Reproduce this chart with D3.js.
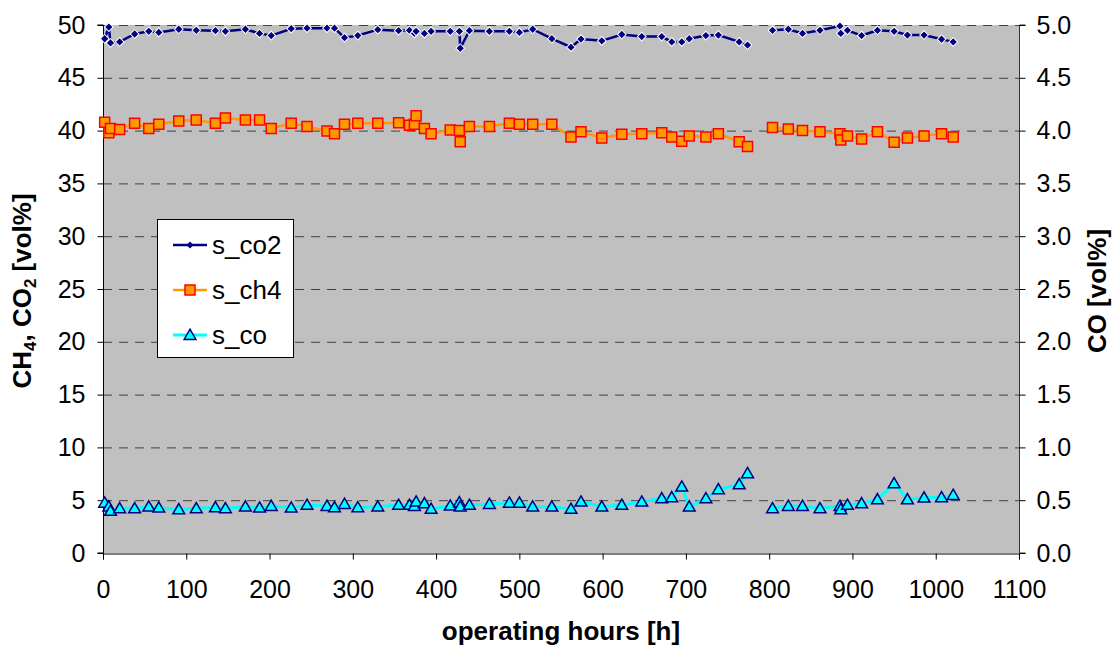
<!DOCTYPE html>
<html><head><meta charset="utf-8">
<script src="https://cdn.jsdelivr.net/npm/d3@7"></script>
<style>
body{margin:0;background:#fff;}
text{font-family:"Liberation Sans",Arial,sans-serif;}
</style></head>
<body><svg id="c" width="1114" height="646"></svg>
<script>
// operating hours (shared x values); null marks the gap in the record
const hours = [2,7,9,20,38,55,67,91,112,135,147,171,188,202,226,245,269,278,290,306,330,355,368,374,376,386,394,417,428,429,440,464,488,500,516,539,562,574,599,623,647,671,683,695,704,724,739,764,774,790,804,823,840,861,885,886,894,911,930,950,966,986,1007,1021];
const co2 = [48.7,49.8,48.3,48.4,49.15,49.4,49.3,49.6,49.5,49.46,49.4,49.6,49.2,49.0,49.65,49.7,49.7,49.7,48.8,49.0,49.56,49.46,49.5,49.2,49.4,49.2,49.4,49.4,49.4,47.8,49.46,49.4,49.4,49.3,49.6,48.7,47.9,48.67,48.5,49.1,48.9,48.9,48.4,48.4,48.7,49.0,49.05,48.4,48.1,null,49.5,49.6,49.2,49.5,49.9,49.2,49.5,49.0,49.5,49.4,49.05,49.05,48.65,48.4];
const ch4 = [40.8,39.8,40.2,40.1,40.7,40.2,40.6,40.9,41.0,40.7,41.2,41.0,41.0,40.2,40.7,40.4,39.96,39.7,40.6,40.7,40.7,40.75,40.5,40.6,41.4,40.2,39.7,40.06,40.0,38.95,40.4,40.4,40.7,40.6,40.6,40.6,39.4,39.9,39.3,39.65,39.7,39.8,39.4,39.0,39.5,39.4,39.7,38.95,38.5,null,40.3,40.15,40.0,39.9,39.7,39.1,39.5,39.2,39.9,38.9,39.3,39.5,39.7,39.4];
const co = [0.476,0.439,0.398,0.423,0.423,0.439,0.429,0.413,0.423,0.432,0.423,0.439,0.429,0.445,0.429,0.455,0.445,0.432,0.464,0.432,0.439,0.455,0.455,0.445,0.486,0.47,0.417,0.448,0.48,0.439,0.455,0.464,0.476,0.476,0.439,0.439,0.417,0.486,0.439,0.455,0.486,0.518,0.527,0.628,0.439,0.518,0.603,0.65,0.755,null,0.423,0.445,0.445,0.423,0.445,0.414,0.455,0.47,0.508,0.66,0.508,0.524,0.527,0.549];
const xTicks = [0,100,200,300,400,500,600,700,800,900,1000,1100];
const yLeftTicks = [0,5,10,15,20,25,30,35,40,45,50];
const yRightTicks = [0,0.5,1,1.5,2,2.5,3,3.5,4,4.5,5];
const seriesNames = ["s_co2","s_ch4","s_co"];

const svg = d3.select("#c");
const L=103, R=1019, T=25, B=553;
const x = d3.scaleLinear().domain([0,1100]).range([L,R]);
const yL = d3.scaleLinear().domain([0,50]).range([B,T]);
const yR = d3.scaleLinear().domain([0,5]).range([B,T]);

svg.append("rect").attr("x",L).attr("y",T).attr("width",R-L).attr("height",B-T).attr("fill","#C0C0C0");

// gridlines
svg.append("g").selectAll("line").data(yLeftTicks.filter(d=>d>0)).join("line")
  .attr("x1",L).attr("x2",R).attr("y1",d=>yL(d)+0.5).attr("y2",d=>yL(d)+0.5)
  .attr("stroke","#404040").attr("stroke-width",1).attr("stroke-dasharray","9,7");

// axes
const fs = "25px";
const gx = svg.append("g").attr("transform",`translate(0,${B+0.5})`)
  .call(d3.axisBottom(x).tickValues(xTicks).tickSize(6).tickPadding(21).tickFormat(d3.format("d")));
const gl = svg.append("g").attr("transform",`translate(${L+0.5},0)`)
  .call(d3.axisLeft(yL).tickValues(yLeftTicks).tickSize(6).tickPadding(12));
const gr = svg.append("g").attr("transform",`translate(${R+0.5},0)`)
  .call(d3.axisRight(yR).tickValues(yRightTicks).tickSize(6).tickPadding(11).tickFormat(d3.format(".1f")));
[gx,gl,gr].forEach(g=>{
  g.selectAll("text").attr("font-size",fs).attr("fill","#000").attr("font-family","Liberation Sans, Arial, sans-serif");
  g.selectAll("line").attr("stroke","#000");
  g.select(".domain").attr("stroke","#000").attr("stroke-width",1);
});
gl.select(".domain").attr("d",`M-6,${B}H0V${T}H-6`);
gr.select(".domain").attr("stroke","#333").attr("d",`M6,${B}H0V${T}H6`);

// lines
const mk = (vals, ys) => d3.line().defined((d,i)=>vals[i]!==null).x((d,i)=>x(hours[i])).y((d,i)=>ys(vals[i]));
svg.append("path").datum(hours).attr("d",mk(ch4,yL)).attr("fill","none").attr("stroke","#FF9900").attr("stroke-width",2.5);
svg.append("path").datum(hours).attr("d",mk(co2,yL)).attr("fill","none").attr("stroke","#000080").attr("stroke-width",2.5);
svg.append("path").datum(hours).attr("d",mk(co,yR)).attr("fill","none").attr("stroke","#00FFFF").attr("stroke-width",3);

const idx = d3.range(hours.length);
const diamond = d3.symbol().type(d3.symbolSquare).size(38)();
const square = d3.symbol().type(d3.symbolSquare).size(100)();
const tri = d3.symbol().type(d3.symbolTriangle).size(60)();

svg.append("g").selectAll("path").data(idx.filter(i=>ch4[i]!==null)).join("path")
  .attr("d",square).attr("transform",i=>`translate(${x(hours[i])},${yL(ch4[i])})`)
  .attr("fill","#FF9900").attr("stroke","#FF0000").attr("stroke-width",1.5);
svg.append("g").selectAll("path").data(idx.filter(i=>co2[i]!==null)).join("path")
  .attr("d",diamond).attr("transform",i=>`translate(${x(hours[i])},${yL(co2[i])}) rotate(45)`)
  .attr("fill","#000080").attr("stroke","#fff").attr("stroke-width",1);
svg.append("g").selectAll("path").data(idx.filter(i=>co[i]!==null)).join("path")
  .attr("d",tri).attr("transform",i=>`translate(${x(hours[i])},${yR(co[i])+1})`)
  .attr("fill","#00FFFF").attr("stroke","#000080").attr("stroke-width",1.5);

// axis titles
const tfs = "26px";
svg.append("text").attr("x",(L+R)/2).attr("y",640).attr("text-anchor","middle")
  .attr("font-size",tfs).attr("font-weight","bold").text("operating hours [h]");
const lt = svg.append("text").attr("transform",`translate(31,${(T+B)/2+2}) rotate(-90)`).attr("text-anchor","middle")
  .attr("font-size",tfs).attr("font-weight","bold");
lt.append("tspan").text("CH");
lt.append("tspan").attr("font-size","17px").attr("dy",5).text("4");
lt.append("tspan").attr("dy",-5).text(", CO");
lt.append("tspan").attr("font-size","17px").attr("dy",5).text("2");
lt.append("tspan").attr("dy",-5).text(" [vol%]");
svg.append("text").attr("transform",`translate(1106,${(T+B)/2+2}) rotate(-90)`).attr("text-anchor","middle")
  .attr("font-size",tfs).attr("font-weight","bold").text("CO [vol%]");

// legend
const lg = svg.append("g");
lg.append("rect").attr("x",157.5).attr("y",219.5).attr("width",136).attr("height",138).attr("fill","#fff").attr("stroke","#000");
const ly = [245,290,335];
const lcol = ["#000080","#FF9900","#00FFFF"];
seriesNames.forEach((n,k)=>{
  lg.append("line").attr("x1",173).attr("x2",207).attr("y1",ly[k]).attr("y2",ly[k]).attr("stroke",lcol[k]).attr("stroke-width",k===2?3:2.5);
  const sym = [d3.symbol().type(d3.symbolSquare).size(26)(), square, tri][k];
  const p = lg.append("path").attr("d",sym).attr("transform",`translate(190,${ly[k]+(k===2?1:0)})${k===0?" rotate(45)":""}`);
  if(k===0) p.attr("fill","#000080");
  if(k===1) p.attr("fill","#FF9900").attr("stroke","#FF0000").attr("stroke-width",1.5);
  if(k===2) p.attr("fill","#00FFFF").attr("stroke","#000080").attr("stroke-width",1.5);
  lg.append("text").attr("x",212).attr("y",ly[k]+9).attr("font-size","26px").text(n);
});
</script></body></html>
